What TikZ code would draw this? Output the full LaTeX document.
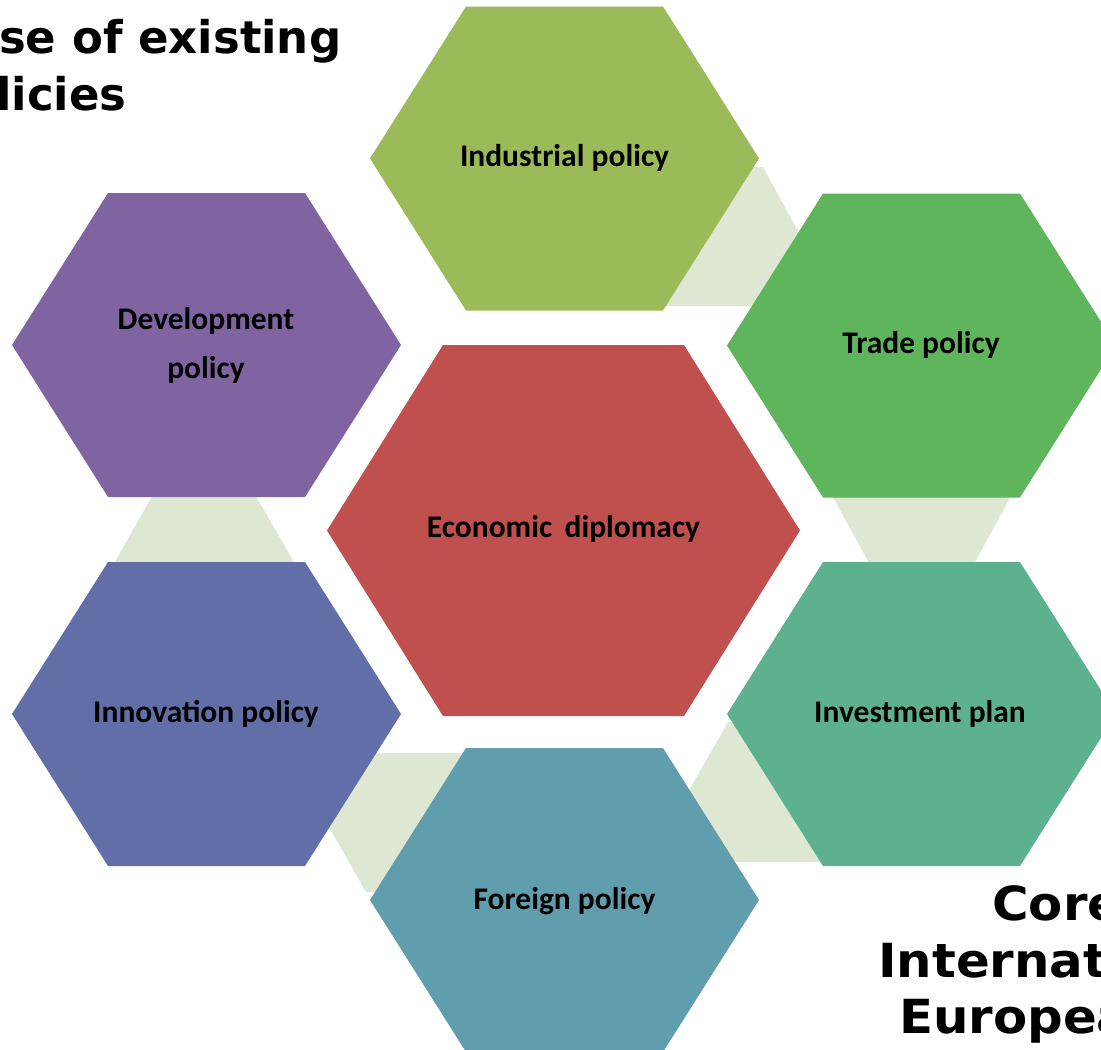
\documentclass[tikz,border=0pt]{standalone}
\usepackage{fontspec}
\setmainfont{Carlito}
\newfontfamily\headfont{DejaVu Sans}
\newfontfamily\headfontwide{DejaVu Sans}[FakeStretch=1.06]
\definecolor{cind}{RGB}{155,187,89}
\definecolor{ctrade}{RGB}{95,181,92}
\definecolor{cdev}{RGB}{128,100,162}
\definecolor{cinno}{RGB}{98,110,168}
\definecolor{cecon}{RGB}{192,80,77}
\definecolor{cinv}{RGB}{93,177,143}
\definecolor{cfor}{RGB}{96,157,173}
\definecolor{clink}{RGB}{222,231,210}
\newcommand\myhex[6]{\fill[#1] ({#2-#4},#3) -- ({#2-#4+#6},{#3-#5}) -- ({#2+#4-#6},{#3-#5}) -- ({#2+#4},#3) -- ({#2+#4-#6},{#3+#5}) -- ({#2-#4+#6},{#3+#5}) -- cycle;}
\tikzset{
  hextext/.style={font=\bfseries\fontsize{31.5}{49}\selectfont, text=black, align=center, inner sep=0pt},
  headtext/.style={font=\headfont\bfseries\fontsize{45}{56}\selectfont, text=black, inner sep=0pt, anchor=base west},
  coretext/.style={font=\headfontwide\bfseries\fontsize{47}{56}\selectfont, text=black, inner sep=0pt, anchor=base west},
  linkfill/.style={fill=clink}
}
\begin{document}
\begin{tikzpicture}[x=1pt,y=-1pt]
\useasboundingbox (0,0) rectangle (1101,1050);
\clip (0,0) rectangle (1101,1050);
% connectors
\fill[linkfill] (740,167) -- (763,167) -- (839,306) -- (651,306) -- cycle;
\fill[linkfill] (818,470) -- (1025,470) -- (960,590) -- (884,590) -- cycle;
\fill[linkfill] (167,470) -- (241,470) -- (310,590) -- (99,590) -- cycle;
\fill[linkfill] (287,753) -- (490,753) -- (411,892) -- (366,892) -- cycle;
\fill[linkfill] (728,722) -- (800,722) -- (880,862) -- (648,862) -- cycle;
% hexagons
\myhex{cind}{564.5}{158.5}{194.5}{152}{96}
\myhex{ctrade}{921.5}{345.5}{194.5}{152}{96}
\myhex{cdev}{206.5}{345}{194.5}{152}{96}
\myhex{cinno}{206.5}{714}{194.5}{152}{96}
\myhex{cinv}{921.5}{714}{194.5}{152}{96}
\myhex{cfor}{564.5}{900}{194.5}{152}{96}
\myhex{cecon}{563.5}{530.5}{236.5}{185.5}{116}
% labels
\node[hextext] (ind) at (564.5,158) {Industrial policy};
\node[hextext] (trade) at (921,345) {Trade policy};
\node[hextext] (dev) at (206,345) {Development\\policy};
\node[hextext] (econ) at (563.5,529) {Economic\, diplomacy};
\node[hextext] (inno) at (206,714) {Innovation policy};
\node[hextext] (inv) at (920,714) {Investment plan};
\node[hextext] (for) at (564.5,901) {Foreign policy};
% cut-off headings
\node[headtext] (h1) at (-1,53) {se of existing};
\node[headtext] (h2) at (-4,110) {licies};
\node[coretext] (c1) at (992,920) {Core};
\node[coretext] (c2) at (878,977) {Internat};
\node[coretext] (c3) at (899,1033) {Europea};
\end{tikzpicture}
\end{document}
